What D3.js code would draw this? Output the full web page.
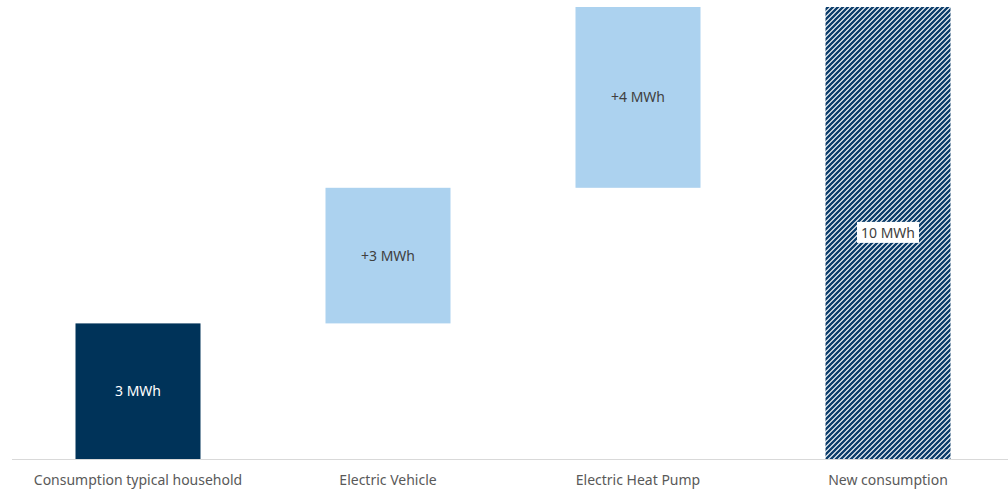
<!DOCTYPE html>
<html><head><meta charset="utf-8">
<script src="https://cdn.jsdelivr.net/npm/d3@7"></script>
<style>body{margin:0;background:#fff}svg{display:block}</style>
</head><body>
<script>
const categories = ["Consumption typical household","Electric Vehicle","Electric Heat Pump","New consumption"];
const values = [3, 3, 4, 10];
const kinds = ["base","delta","delta","total"];
const labels = ["3 MWh","+3 MWh","+4 MWh","10 MWh"];

const W = 1008, H = 490;
const svg = d3.select("body").append("svg").attr("width", W).attr("height", H);
const defs = svg.append("defs");
const pat = defs.append("pattern").attr("id","hatch").attr("patternUnits","userSpaceOnUse")
  .attr("width",5).attr("height",5);
pat.append("rect").attr("width",5).attr("height",5).attr("fill","#fff");
pat.append("path").attr("d","M-1,6 L6,-1 M-1,1 L1,-1 M4,6 L6,4")
  .attr("stroke","#0c3d6b").attr("stroke-width",2.4);

const x = d3.scaleBand().domain(categories).range([13, 1013]).paddingInner(0.5).paddingOuter(0.25);
const y = d3.scaleLinear().domain([0, 10]).range([459, 7]);

let cum = 0;
const bars = categories.map((c, i) => {
  let y0, y1;
  if (kinds[i] === "total") { y0 = 0; y1 = values[i]; }
  else { y0 = cum; y1 = cum + values[i]; cum = y1; }
  return {c, y0, y1, kind: kinds[i], label: labels[i]};
});
const fills = {base:"#003359", delta:"#acd2ef", total:"url(#hatch)"};

svg.selectAll("rect.bar").data(bars).join("rect").attr("class","bar")
  .attr("x", d => x(d.c)).attr("width", x.bandwidth())
  .attr("y", d => y(d.y1)).attr("height", d => y(d.y0) - y(d.y1))
  .attr("fill", d => fills[d.kind]);

// axis
const ax = svg.append("g").attr("transform","translate(0,459.5)")
  .call(d3.axisBottom(x).tickSize(0).tickPadding(16));
ax.select(".domain").attr("d","M12,0H1008").attr("stroke","#d9d9d9").attr("stroke-width",1.2);
ax.selectAll("text").attr("font-family","'Noto Sans', sans-serif").attr("font-size",14).attr("fill","#595959");

// labels
const lg = svg.append("g");
bars.forEach(d => {
  const cx = x(d.c) + x.bandwidth()/2, cy = (y(d.y0) + y(d.y1))/2;
  const t = lg.append("text").attr("x", cx).attr("y", cy).attr("dy","0.35em")
    .attr("text-anchor","middle").attr("font-family","'Noto Sans', sans-serif").attr("font-size",14)
    .attr("fill", d.kind === "base" ? "#ffffff" : "#404040").text(d.label);
  if (d.kind === "total") {
    const b = t.node().getBBox();
    lg.insert("rect", "text").attr("x", b.x - 4).attr("y", b.y - 1).attr("width", b.width + 8).attr("height", b.height + 2).attr("fill","#fff");
  }
});
</script>
</body></html>
